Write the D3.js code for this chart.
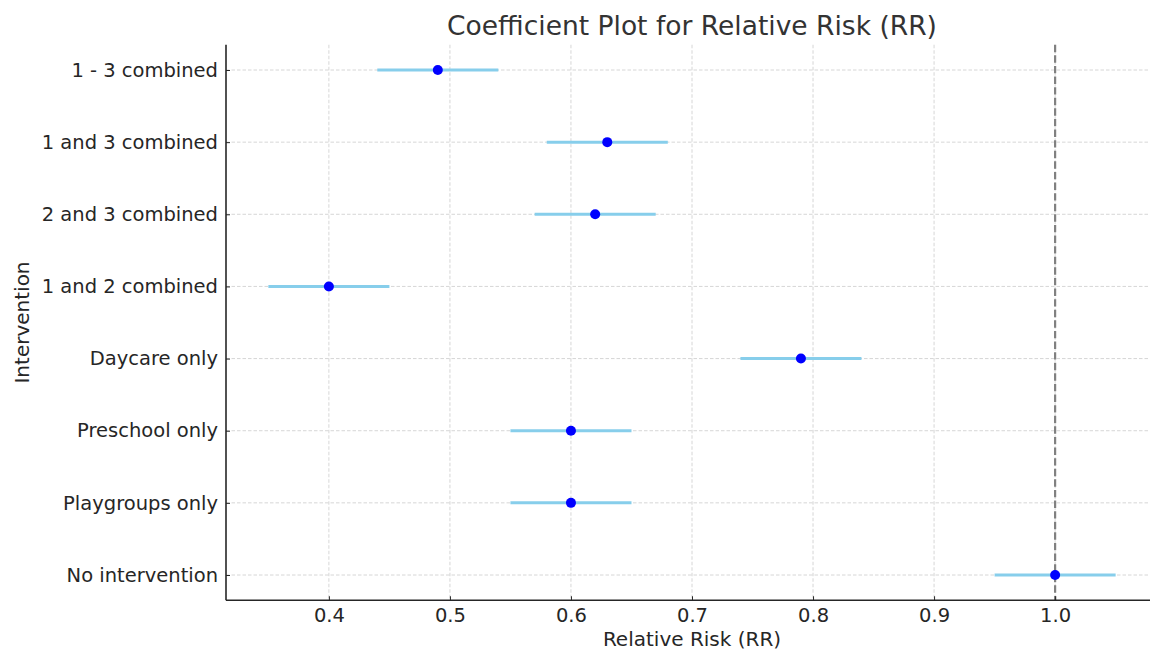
<!DOCTYPE html>
<html>
<head>
<meta charset="utf-8">
<script src="https://cdn.jsdelivr.net/npm/d3@7"></script>
<style>
  body { margin: 0; background: #fff; }
  svg { display: block; font-family: "DejaVu Sans", sans-serif; }
</style>
</head>
<body>
<div id="chart"></div>
<script>
// categories, bottom to top
const interventions = ["No intervention", "Playgroups only", "Preschool only", "Daycare only",
  "1 and 2 combined", "2 and 3 combined", "1 and 3 combined", "1 - 3 combined"];
const rr = [1.00, 0.60, 0.60, 0.79, 0.40, 0.62, 0.63, 0.49];
const lower = [0.95, 0.55, 0.55, 0.74, 0.35, 0.57, 0.58, 0.44];
const upper = [1.05, 0.65, 0.65, 0.84, 0.45, 0.67, 0.68, 0.54];
const xTicks = [0.4, 0.5, 0.6, 0.7, 0.8, 0.9, 1.0];

const data = interventions.map((d, i) => ({name: d, i: i, rr: rr[i], lo: lower[i], hi: upper[i]}));

const W = 1150, H = 653;
const plotLeft = 226, plotRight = 1158, plotTop = 44.75, plotBottom = 600.25;

const svg = d3.select("#chart").append("svg")
  .attr("width", W)
  .attr("height", H);

// x scale with matplotlib-like 5% margins
const x = d3.scaleLinear()
  .domain([0.315, 1.085])
  .range([plotLeft, plotRight]);

const y = d3.scaleLinear()
  .domain([-0.35, interventions.length - 1 + 0.35])
  .range([plotBottom, plotTop]);

// grid
const grid = svg.append("g");
grid.selectAll("line.vx")
  .data(xTicks)
  .join("line")
    .attr("class", "vx")
    .attr("x1", d => x(d)).attr("x2", d => x(d))
    .attr("y1", plotTop).attr("y2", plotBottom)
    .attr("stroke", "#cccccc")
    .attr("stroke-width", 0.8)
    .attr("stroke-dasharray", "3.5,2");
grid.selectAll("line.hy")
  .data(data)
  .join("line")
    .attr("class", "hy")
    .attr("x1", plotLeft).attr("x2", W)
    .attr("y1", d => y(d.i)).attr("y2", d => y(d.i))
    .attr("stroke", "#cccccc")
    .attr("stroke-width", 0.8)
    .attr("stroke-dasharray", "3.5,2");

// reference line at RR = 1
svg.append("line")
  .attr("x1", x(1)).attr("x2", x(1))
  .attr("y1", plotTop).attr("y2", plotBottom)
  .attr("stroke", "#808080")
  .attr("stroke-width", 2.2)
  .attr("stroke-dasharray", "7.4,3.2");

// error bars
svg.append("g")
  .selectAll("line")
  .data(data)
  .join("line")
    .attr("x1", d => x(d.lo)).attr("x2", d => x(d.hi))
    .attr("y1", d => y(d.i)).attr("y2", d => y(d.i))
    .attr("stroke", "#87ceeb")
    .attr("stroke-width", 3);

// points
svg.append("g")
  .selectAll("circle")
  .data(data)
  .join("circle")
    .attr("cx", d => x(d.rr))
    .attr("cy", d => y(d.i))
    .attr("r", 5)
    .attr("fill", "#0000ff");

// axes
const xAxis = svg.append("g")
  .attr("transform", `translate(0,${plotBottom})`)
  .call(d3.axisBottom(x).tickValues(xTicks).tickFormat(d3.format(".1f")).tickSize(-4).tickPadding(8));
const yAxis = svg.append("g")
  .attr("transform", `translate(${plotLeft},0)`)
  .call(d3.axisLeft(y).tickValues(data.map(d => d.i)).tickFormat(i => interventions[i]).tickSize(-4).tickPadding(8));

[xAxis, yAxis].forEach(a => {
  a.select(".domain").attr("stroke", "#262626").attr("stroke-width", 1.6);
  a.selectAll(".tick line").attr("stroke", "#262626").attr("stroke-width", 1);
  a.selectAll(".tick text")
    .attr("fill", "#262626")
    .style("font-size", "19.5px")
    .style("font-family", "DejaVu Sans, sans-serif");
});
xAxis.select(".domain").attr("d", `M${plotLeft},0H${W}`);
yAxis.select(".domain").attr("d", `M0,${plotTop}V${plotBottom}`);

// labels
svg.append("text")
  .attr("x", (plotLeft + plotRight) / 2)
  .attr("y", 35)
  .attr("text-anchor", "middle")
  .attr("fill", "#333333")
  .style("font-size", "26.5px")
  .text("Coefficient Plot for Relative Risk (RR)");

svg.append("text")
  .attr("x", (plotLeft + plotRight) / 2)
  .attr("y", 646)
  .attr("text-anchor", "middle")
  .attr("fill", "#262626")
  .style("font-size", "20px")
  .text("Relative Risk (RR)");

svg.append("text")
  .attr("transform", `translate(29,${(plotTop + plotBottom) / 2}) rotate(-90)`)
  .attr("text-anchor", "middle")
  .attr("fill", "#262626")
  .style("font-size", "20px")
  .text("Intervention");
</script>
</body>
</html>
